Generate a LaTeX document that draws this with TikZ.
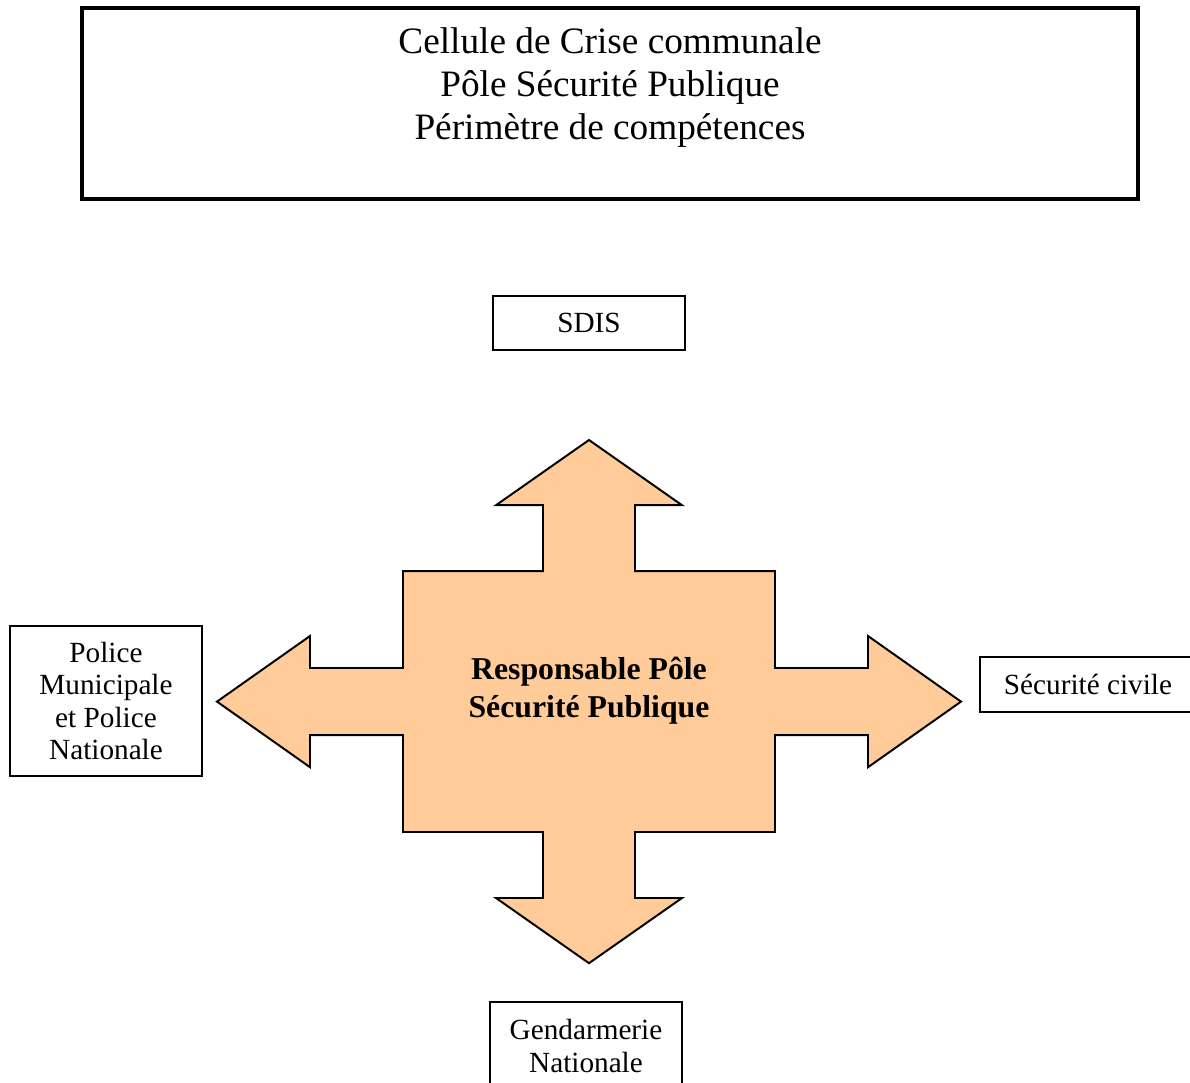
\documentclass[tikz,border=0pt]{standalone}
\usepackage{fontspec}
\setmainfont{Liberation Serif}
\usetikzlibrary{positioning}
\definecolor{peche}{HTML}{FFCC99}
\tikzstyle{titre} = [rectangle, draw=black, line width=2.8pt, minimum width=26.4cm, minimum height=4.775cm, align=center, font=\fontsize{26.5}{30.6}\selectfont]
\tikzstyle{service} = [rectangle, draw=black, line width=1pt, minimum width=4.8cm, align=center, font=\fontsize{20.8}{23}\selectfont]
\tikzstyle{croix} = [draw=black, line width=1.4pt, fill=peche, line join=miter]

\begin{document}
\begin{tikzpicture}

			\path[clip, use as bounding box] (0,0) rectangle (29.75,-27.075);

			% Titre
			\node (titre) [titre] at (15.25,-2.5875) {Cellule de Crise communale\\Pôle Sécurité Publique\\Périmètre de compétences\\[-0.1cm]\mbox{}};

			% Croix centrale (4 fleches)
			\coordinate (centre) at (14.725,-17.54);
			\draw [croix, shift={(centre)}]
				(0,6.54) -- (2.325,4.91) -- (1.15,4.91) -- (1.15,3.26) -- (4.65,3.26) -- (4.65,0.84)
				-- (6.975,0.84) -- (6.975,1.64) -- (9.3,0) -- (6.975,-1.64) -- (6.975,-0.84) -- (4.65,-0.84)
				-- (4.65,-3.26) -- (1.15,-3.26) -- (1.15,-4.91) -- (2.325,-4.91) -- (0,-6.54) -- (-2.325,-4.91)
				-- (-1.15,-4.91) -- (-1.15,-3.26) -- (-4.65,-3.26) -- (-4.65,-0.84) -- (-6.975,-0.84)
				-- (-6.975,-1.64) -- (-9.3,0) -- (-6.975,1.64) -- (-6.975,0.84) -- (-4.65,0.84)
				-- (-4.65,3.26) -- (-1.15,3.26) -- (-1.15,4.91) -- (-2.325,4.91) -- cycle;
			\node (resp) [align=center, font=\fontsize{22.6}{27}\bfseries\selectfont] at (14.725,-17.255) {Responsable Pôle\\Sécurité Publique};

			% Services autour
			\node (sdis) [service, minimum height=1.35cm] at (14.725,-8.075) {SDIS};
			\node (police) [service, minimum height=3.75cm] at (2.65,-17.525) {Police\\Municipale\\et Police\\Nationale};
			\node (secu) [service, minimum width=5.4cm, minimum height=1.375cm] at (27.2,-17.11) {Sécurité civile};
			\node (gend) [service, minimum height=2.2cm] at (14.65,-26.15) {Gendarmerie\\Nationale};

		\end{tikzpicture}
\end{document}
